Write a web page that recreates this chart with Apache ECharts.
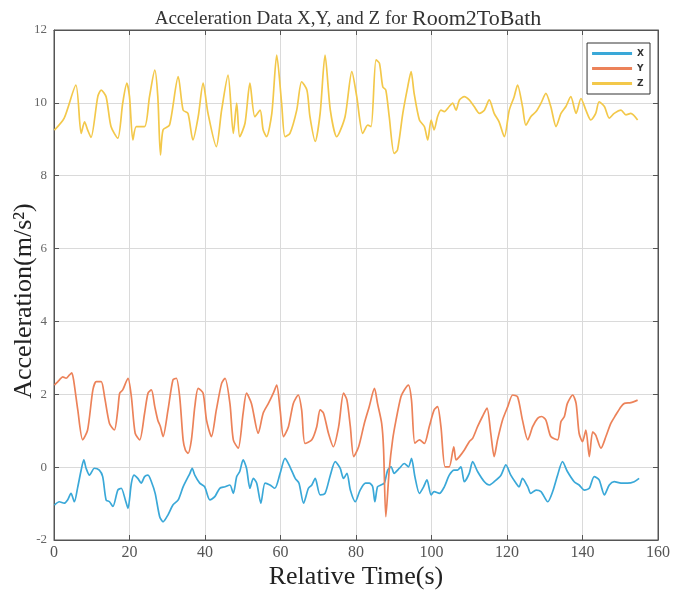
<!DOCTYPE html>
<html>
<head>
<meta charset="utf-8">
<script src="https://cdn.jsdelivr.net/npm/echarts@6/dist/echarts.min.js"></script>
<style>html,body{margin:0;padding:0;background:#fff}#c{width:673px;height:595px}</style>
</head>
<body>
<div id="c"></div>
<script>
const titleStart = "Acceleration Data X,Y, and Z for";
const titleEnd = "Room2ToBath";
const xTicks = [0, 20, 40, 60, 80, 100, 120, 140, 160];
const yTicks = [-2, 0, 2, 4, 6, 8, 10, 12];
const seriesNames = ["X", "Y", "Z"];

const tX = [0.1,1.4,2.7,3.6,4.5,5.4,6.3,7.2,7.9,8.5,9.4,10.7,12.0,12.9,13.8,14.7,15.6,16.9,17.8,18.9,19.6,20.5,21.2,22.2,23.1,24.0,24.9,25.8,26.8,28.0,28.9,30.2,31.5,32.9,34.2,35.1,36.0,36.6,37.3,38.6,39.9,41.3,42.6,43.9,45.3,46.6,47.5,48.4,49.2,50.1,51.0,51.9,52.8,53.7,54.8,55.9,57.2,58.5,59.9,61.2,62.5,63.9,64.9,66.1,67.4,68.3,69.2,70.5,71.8,73.2,74.5,75.8,76.7,77.6,78.5,79.8,81.1,82.5,83.5,84.4,85.0,85.7,86.6,87.5,88.4,89.3,90.1,91.5,92.8,93.9,94.7,95.6,96.8,97.9,98.8,99.9,100.7,102.1,103.4,104.7,106.0,106.9,107.8,108.7,110.0,110.9,112.2,114.0,115.3,116.6,118.4,119.7,121.0,122.4,123.2,124.1,125.5,126.3,127.7,129.0,130.8,132.1,133.4,134.7,136.0,137.8,139.1,140.5,141.8,143.1,144.4,145.8,147.1,148.4,150.2,151.9,153.7,155.0];
const accX = [-1.04,-0.95,-0.99,-0.90,-0.72,-0.95,-0.54,-0.08,0.20,-0.03,-0.22,-0.03,-0.08,-0.26,-0.90,-0.95,-1.08,-0.63,-0.58,-0.90,-1.13,-0.44,-0.22,-0.31,-0.44,-0.26,-0.22,-0.40,-0.72,-1.36,-1.50,-1.31,-1.04,-0.90,-0.54,-0.35,-0.17,-0.03,-0.22,-0.44,-0.54,-0.90,-0.81,-0.58,-0.54,-0.49,-0.72,-0.26,-0.12,0.20,-0.03,-0.58,-0.31,-0.44,-0.99,-0.44,-0.49,-0.58,-0.17,0.24,0.01,-0.31,-0.44,-0.99,-0.58,-0.49,-0.31,-0.76,-0.72,-0.22,0.15,-0.03,-0.31,-0.17,-0.63,-0.95,-0.63,-0.44,-0.44,-0.53,-0.95,-0.54,-0.49,-0.44,-0.08,0.01,-0.17,-0.03,0.10,0.01,0.24,-0.26,-0.72,-0.54,-0.35,-0.76,-0.67,-0.72,-0.54,-0.22,-0.08,-0.08,0.01,-0.40,-0.17,0.15,-0.12,-0.40,-0.49,-0.40,-0.22,0.06,-0.22,-0.44,-0.54,-0.31,-0.54,-0.72,-0.63,-0.67,-0.95,-0.67,-0.22,0.15,-0.12,-0.40,-0.49,-0.63,-0.58,-0.26,-0.35,-0.76,-0.49,-0.40,-0.44,-0.44,-0.40,-0.31];

const tY = [0.1,1.4,2.3,3.2,4.1,4.7,5.2,6.3,7.6,8.9,10.3,11.2,12.5,13.4,14.7,16.0,16.9,17.4,18.2,19.6,20.5,21.5,22.7,24.0,24.9,25.8,26.7,27.5,28.2,28.9,30.2,31.5,32.4,33.3,34.2,34.8,35.5,36.4,37.3,38.2,39.5,40.4,41.7,43.0,44.4,45.3,46.6,47.5,48.8,50.1,51.0,52.3,54.1,55.4,56.8,58.1,59.0,59.9,60.8,62.1,63.4,64.7,65.6,66.5,68.3,69.6,70.5,71.4,72.7,74.0,75.4,76.7,77.6,78.5,79.4,80.7,82.2,83.5,84.9,85.7,86.8,87.3,87.9,88.8,89.7,90.6,91.9,92.8,93.9,94.7,95.6,96.8,98.1,99.4,100.7,101.6,102.5,103.6,104.7,105.9,106.5,107.4,108.7,110.0,110.9,112.2,113.5,114.7,115.7,116.6,117.5,118.8,120.2,121.5,122.8,124.1,125.5,126.8,128.1,129.2,130.3,131.6,133.4,134.3,135.2,136.0,137.4,138.3,139.1,140.0,140.9,141.8,142.7,143.5,144.9,146.2,147.5,148.8,150.2,151.1,152.8,154.6];
const accY = [2.25,2.39,2.48,2.44,2.53,2.59,2.39,1.57,0.75,1.02,2.12,2.35,2.35,1.93,1.20,1.02,1.57,2.03,2.12,2.44,1.93,0.93,0.75,1.48,2.03,2.12,1.66,1.29,1.11,0.84,1.57,2.39,2.44,1.93,0.75,0.47,0.38,0.75,1.66,2.16,2.03,1.29,0.84,1.57,2.30,2.44,1.75,0.75,0.52,1.48,2.03,1.75,0.93,1.48,1.75,2.03,2.25,1.57,0.84,1.11,1.75,1.98,1.57,0.65,0.75,1.11,1.57,1.48,0.93,0.56,1.11,2.03,1.84,1.11,0.29,0.56,1.20,1.66,2.16,1.75,1.20,0.50,-1.36,-0.08,0.75,1.29,1.93,2.12,2.25,1.84,0.66,0.75,0.65,1.11,1.57,1.66,1.11,0.01,0.01,0.56,0.20,0.29,0.47,0.70,0.79,1.11,1.39,1.62,0.93,0.29,0.75,1.29,1.66,1.98,1.93,1.29,0.75,1.11,1.34,1.39,1.29,0.84,0.75,1.25,1.39,1.75,1.98,1.75,0.93,0.70,1.02,0.29,0.97,0.88,0.52,0.84,1.20,1.43,1.66,1.75,1.77,1.84];

const tZ = [0.1,2.7,5.8,7.2,8.1,8.9,9.8,11.6,12.5,13.8,15.1,16.9,18.2,19.3,20.0,20.9,21.8,24.0,25.3,26.7,27.5,28.2,28.9,30.6,32.9,34.2,35.5,36.8,38.2,39.5,40.8,43.0,44.4,46.1,47.5,48.4,49.2,50.6,51.9,53.2,54.6,55.4,56.3,57.7,59.0,60.3,61.2,62.5,64.3,65.6,67.0,67.8,69.2,70.5,71.8,73.2,74.9,77.1,78.9,80.2,81.8,83.1,84.0,85.3,86.2,87.1,87.9,88.8,90.1,91.0,92.4,93.7,94.6,95.4,96.8,98.1,99.0,99.9,100.7,101.6,102.5,103.4,104.7,105.6,106.5,107.4,108.7,110.0,111.3,112.7,114.0,115.3,116.6,117.9,119.3,120.6,121.9,122.8,124.1,125.0,126.3,127.7,129.0,130.3,131.6,133.0,134.3,135.6,136.9,138.3,139.6,140.9,142.2,143.5,144.4,145.8,147.1,148.4,150.2,151.5,152.8,154.6];
const accZ = [9.25,9.58,10.49,9.16,9.48,9.26,9.05,10.17,10.35,10.17,9.35,9.03,9.99,10.54,10.17,8.98,9.35,9.35,10.17,10.90,10.17,8.57,9.26,9.39,10.72,9.80,9.71,8.98,9.62,10.54,9.71,8.80,9.80,10.76,9.16,9.99,9.07,9.44,10.54,9.62,9.80,9.26,9.07,9.71,11.31,9.99,9.07,9.16,9.80,10.58,10.35,9.62,8.94,9.71,11.31,9.80,9.07,9.62,10.86,10.17,9.16,9.39,9.35,11.18,11.09,10.44,10.35,9.62,8.61,8.71,9.71,10.44,10.86,10.26,9.53,9.35,8.98,9.53,9.26,9.62,9.80,9.76,9.90,9.99,9.80,10.08,10.17,10.08,9.90,9.71,9.80,10.08,9.71,9.48,9.07,9.80,10.17,10.49,9.90,9.39,9.62,9.76,9.99,10.26,9.90,9.35,9.71,9.90,10.17,9.71,10.12,9.80,9.53,9.71,10.03,9.90,9.58,9.71,9.80,9.67,9.71,9.53];

const colors = ["#3aa8d8", "#ec8259", "#f3c84a"];
function pairs(t, v) { return t.map((x, i) => [x, v[i]]); }

const chart = echarts.init(document.getElementById("c"));
const serif = "Liberation Serif";
const axisLineStyle = { show: true, onZero: false, lineStyle: { color: "#555" } };
const tickStyle = { show: true, inside: true, length: 5, lineStyle: { color: "#555" } };
chart.setOption({
  animation: false,
  backgroundColor: "#fff",
  title: {
    text: "{a|" + titleStart + "} {b|" + titleEnd + "}", left: 343, top: 3, textAlign: "center",
    textStyle: {
      fontWeight: "normal",
      rich: {
        a: { fontFamily: serif, fontSize: 19, fontWeight: "normal", color: "#333" },
        b: { fontFamily: serif, fontSize: 22, fontWeight: "normal", color: "#333" }
      }
    }
  },
  grid: { left: 54, top: 30, right: 13, bottom: 55, show: true, borderColor: "#555", borderWidth: 1 },
  legend: {
    data: seriesNames, orient: "vertical", right: 23, top: 43,
    itemWidth: 40, itemHeight: 3, itemGap: 6, icon: "rect",
    backgroundColor: "#fff", borderColor: "#333", borderWidth: 1, padding: [6, 6, 6, 5],
    textStyle: { fontFamily: "DejaVu Sans", fontSize: 9, fontWeight: "bold", color: "#333" }
  },
  xAxis: [
    {
      type: "value", min: xTicks[0], max: xTicks[xTicks.length - 1], interval: 20,
      name: "Relative Time(s)", nameLocation: "middle", nameGap: 24, nameMoveOverlap: false,
      nameTextStyle: { fontFamily: serif, fontSize: 26, color: "#222" },
      axisLine: axisLineStyle, axisTick: tickStyle,
      axisLabel: { margin: 5, color: "#555", fontFamily: serif, fontSize: 16 },
      splitLine: { show: true, lineStyle: { color: "#dadada", width: 1 } }
    },
    {
      type: "value", position: "top", min: xTicks[0], max: xTicks[xTicks.length - 1], interval: 20,
      axisLine: axisLineStyle, axisTick: tickStyle,
      axisLabel: { show: false }, splitLine: { show: false }
    }
  ],
  yAxis: [
    {
      type: "value", min: yTicks[0], max: yTicks[yTicks.length - 1], interval: 2,
      name: "Acceleration(m/s²)", nameLocation: "middle", nameGap: 17, nameMoveOverlap: false,
      nameTextStyle: { fontFamily: serif, fontSize: 26, color: "#222", padding: [0, 32, 0, 0] },
      axisLine: axisLineStyle, axisTick: tickStyle,
      axisLabel: { margin: 7, fontSize: 13, color: "#666", fontFamily: serif },
      splitLine: { show: true, lineStyle: { color: "#dadada", width: 1 } }
    },
    {
      type: "value", position: "right", min: yTicks[0], max: yTicks[yTicks.length - 1], interval: 2,
      axisLine: axisLineStyle, axisTick: tickStyle,
      axisLabel: { show: false }, splitLine: { show: false }
    }
  ],
  series: [
    { name: seriesNames[0], type: "line", data: pairs(tX, accX), color: colors[0], showSymbol: false, smooth: 0.25, lineStyle: { width: 1.7 } },
    { name: seriesNames[1], type: "line", data: pairs(tY, accY), color: colors[1], showSymbol: false, smooth: 0.25, lineStyle: { width: 1.7 } },
    { name: seriesNames[2], type: "line", data: pairs(tZ, accZ), color: colors[2], showSymbol: false, smooth: 0.25, lineStyle: { width: 1.7 } }
  ]
});
</script>
</body>
</html>
